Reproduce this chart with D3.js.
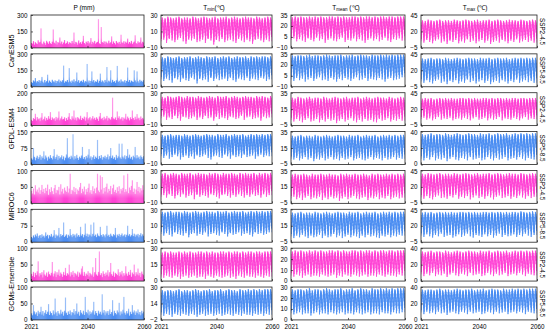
<!DOCTYPE html>
<html><head><meta charset="utf-8">
<script src="https://cdn.jsdelivr.net/npm/d3@7"></script>
<style>body{margin:0;background:#fff}svg{display:block;font-family:"Liberation Sans",Arial,sans-serif}</style>
</head><body><svg id="c" width="550" height="336"></svg>
<script>
const models = ["CanESM5","GFDL-ESM4","MIROC6","GCMs-Ensemble"];
const scenarios = ["SSP2-4.5","SSP5-8.5"];
const yearLabels = ["2021","2040","2060"];
const yTicksP = [[0,150,300],[0,150,300],[0,100,200],[0,75,150],[0,50,100],[0,75,150],[0,50,100],[0,50,100]];
const yTicksTmin = [[-10,10,30],[-10,10,30],[-10,10,30],[-10,10,30],[-10,10,30],[-10,10,30],[0,15,30],[-2,14,30]];
const yTicksTmean = [[-10,5,20,35],[-10,5,20,35],[-5,15,35],[-5,15,35],[-5,15,35],[-5,15,35],[0,10,20,30],[0,10,20,30]];
const yTicksTmax = [[-5,20,45],[-5,20,45],[-5,20,45],[0,20,40],[-5,20,45],[-5,20,45],[0,20,40],[0,20,40]];

// precipitation, 3 values per year (2021-2060), one row per model/scenario
const pVals = [
[45,38,62,30,52,41,35,70,48,55,178,40,33,58,44,29,65,50,37,61,42,36,57,168,48,39,66,31,53,45,95,40,58,34,49,72,38,44,60,35,51,47,39,63,42,140,36,55,48,30,68,41,52,37,59,110,44,33,57,46,62,39,50,90,35,56,43,64,38,49,55,262,41,36,190,53,45,60,34,58,47,39,66,42,51,105,37,59,44,32,63,48,40,55,36,120,50,43,61,38,57,46,85,39,54,41,64,35,49,58,115,43,37,60,45,52,95,40,56,48],
[42,35,58,48,80,39,52,44,61,37,55,90,46,33,62,40,51,110,38,57,45,36,64,49,41,58,34,53,47,66,39,55,43,60,193,37,50,46,62,41,170,48,35,57,44,68,39,52,130,45,60,36,49,55,42,64,38,51,46,208,40,57,35,53,140,47,61,39,50,44,66,37,54,120,42,58,48,35,62,45,180,40,56,47,150,38,63,44,51,36,59,190,43,55,38,67,46,50,41,60,37,53,175,45,62,39,56,48,44,150,58,41,140,50,36,64,47,55,43,60],
[35,28,46,40,72,31,52,38,44,27,49,76,33,41,55,30,47,36,58,42,82,34,50,39,45,29,53,37,48,86,32,44,56,38,41,51,28,46,35,54,76,40,33,57,43,92,36,49,31,52,45,38,60,34,47,41,55,30,50,82,37,46,53,32,44,58,39,48,35,51,42,29,56,77,40,47,33,54,38,45,59,31,48,42,36,53,170,44,39,50,34,86,47,57,38,43,52,30,49,41,72,37,55,45,32,51,40,92,46,35,54,39,70,43,48,33,56,41,47,38],
[28,22,75,35,19,31,40,25,33,44,21,37,29,60,24,41,32,18,36,27,43,30,23,38,70,26,34,45,20,39,28,33,42,24,37,19,31,46,120,29,35,25,40,32,138,22,38,27,44,30,21,36,29,41,80,26,34,23,39,31,45,70,28,37,20,33,42,25,36,30,112,24,39,29,43,22,35,31,40,27,34,46,23,38,75,30,41,26,33,21,44,29,37,95,32,25,95,36,28,42,24,39,70,31,45,27,35,22,40,33,80,28,43,30,36,24,41,34,26,38],
[38,30,45,27,55,36,42,33,48,29,40,56,35,44,31,47,38,57,26,43,34,49,37,28,46,56,32,41,39,50,27,58,36,44,30,48,39,35,52,33,45,90,29,41,37,50,34,46,28,42,38,49,62,31,44,36,51,27,43,35,47,60,33,40,29,52,37,45,31,48,90,39,34,85,42,80,30,47,36,50,60,33,44,38,53,28,46,57,35,41,32,49,37,52,30,44,39,47,85,34,43,36,90,31,48,40,53,70,35,45,29,42,65,37,50,33,46,39,55,41],
[24,18,31,22,35,27,40,20,29,33,19,36,25,30,21,45,28,34,17,32,26,38,23,30,55,19,35,27,31,65,22,37,28,33,90,24,30,36,20,34,27,60,32,23,38,29,35,21,40,26,33,25,70,30,37,22,34,85,28,39,24,36,31,80,26,38,90,29,35,23,40,30,27,70,33,25,37,31,22,36,75,28,34,24,39,30,26,37,32,65,21,35,29,38,25,33,40,27,31,36,23,34,75,30,37,26,32,60,28,39,25,35,30,38,22,33,41,27,36,29],
[22,15,28,12,25,18,30,60,14,24,19,27,11,33,20,16,26,13,29,21,17,25,58,14,23,30,12,27,19,35,15,26,21,13,28,18,40,16,24,20,50,14,27,19,31,12,25,22,17,29,13,26,20,38,45,16,28,15,23,19,30,14,25,21,17,42,13,27,70,20,16,28,90,18,24,12,30,22,15,26,19,33,14,27,55,21,16,29,13,25,22,18,36,15,27,20,31,14,24,17,45,23,16,28,19,34,13,26,21,50,15,27,20,38,17,25,12,29,22,18],
[20,14,45,26,17,23,12,28,19,24,40,16,27,13,22,30,18,25,48,15,26,21,14,29,17,65,23,12,27,20,16,31,19,25,13,28,68,22,15,26,18,29,14,24,21,33,16,27,50,19,25,13,30,22,17,28,15,70,24,20,31,14,26,18,23,29,55,16,27,21,13,28,19,25,16,78,22,30,14,26,20,27,15,32,18,24,60,13,28,21,17,29,23,52,14,26,19,31,70,22,16,27,20,34,13,25,18,45,23,29,15,26,21,32,17,24,14,28,20,25]
];

// yearly summer peaks / winter troughs of the temperature series (°C)
const tminHi = [
[27,26,28,27,26,27,28,26,27,27,26,28,27,26,27,28,27,26,27,28,26,27,27,28,26,27,28,27,26,27,28,27,27,26,28,27,26,27,28,27],
[26,25,27,26,25,26,27,25,26,26,27,25,26,27,26,25,27,26,26,27,25,26,27,26,27,25,26,27,26,26,27,25,27,26,27,26,27,27,26,27],
[25,24,26,25,24,25,26,25,24,26,25,25,24,26,25,24,25,26,25,24,26,25,25,26,24,25,26,25,24,25,26,25,25,24,26,25,26,25,24,26],
[26,25,26,27,25,26,26,25,27,26,25,26,27,26,25,26,27,26,26,25,27,26,26,27,25,26,27,26,26,27,25,26,27,26,27,26,27,26,27,27],
[26,27,25,26,27,26,25,27,26,26,27,25,26,27,26,26,25,27,26,27,26,25,27,26,26,27,26,25,27,26,27,26,26,27,25,27,26,27,26,27],
[27,26,27,28,26,27,27,26,28,27,26,27,28,27,26,27,28,27,27,26,28,27,27,28,26,27,28,27,27,28,26,27,28,27,28,27,28,27,28,28],
[26,27,26,27,26,26,27,26,27,26,27,26,26,27,27,26,27,26,27,26,26,27,27,26,27,26,27,27,26,27,26,27,27,26,27,27,26,27,27,27],
[27,26,27,27,26,27,28,26,27,27,26,27,28,27,26,27,27,28,26,27,27,28,26,27,28,27,27,26,28,27,27,28,27,28,27,28,27,28,28,28]];
const tminLo = [
[-2,0,-4,1,-1,-3,0,2,-2,-5,0,-1,1,-3,-2,0,-4,1,-1,-6,0,-2,1,-3,-1,0,-2,-4,1,-1,-3,0,-2,-5,0,1,-1,-3,0,-2],
[-1,-3,0,-2,-5,1,-1,-4,0,-2,-3,1,-1,-6,0,-2,-1,-4,1,-3,0,-2,-1,0,-3,1,-2,-4,0,-1,-2,1,-3,0,-1,-2,1,0,-3,-1],
[-1,1,-3,0,-2,2,-1,-4,1,0,-2,-1,1,-3,0,-2,2,-1,0,-4,1,-2,0,-1,-3,1,0,-2,-1,2,-3,0,1,-2,-1,0,-4,1,-1,0],
[0,-2,1,-3,-1,2,0,-4,-1,1,-2,0,-3,1,-1,0,2,-2,-4,0,1,-1,-2,2,0,-3,1,-1,0,-2,2,-1,0,1,-3,0,2,-1,1,0],
[-2,0,-3,1,-1,-4,0,-2,1,-3,-1,0,-5,1,-2,0,-1,-3,1,0,-2,-4,0,1,-1,-3,0,-2,1,-1,-3,0,-2,1,-1,0,-3,1,-2,0],
[0,-2,1,-1,-3,2,0,-1,-2,1,-4,0,1,-2,0,-1,2,-3,0,1,-1,-2,2,0,-3,1,-1,0,2,-2,0,1,-1,-3,2,0,1,-1,0,2],
[4,3,5,4,3,5,4,2,4,5,3,4,5,3,4,4,2,5,4,3,5,4,3,4,5,3,4,2,5,4,3,5,4,4,3,5,4,3,5,4],
[3,2,4,3,1,4,3,2,4,3,2,4,3,1,3,4,2,3,4,2,3,4,2,3,4,3,2,4,3,2,4,3,3,2,4,3,4,2,4,3]];
const tmeanHi = [
[32,33,32,33,32,32,33,32,33,32,33,32,32,33,33,32,33,32,33,32,32,33,33,32,33,32,33,33,32,33,32,33,33,32,33,33,32,33,33,33],
[33,32,33,33,32,33,34,32,33,33,32,33,34,33,32,33,33,34,32,33,33,34,32,33,34,33,33,32,34,33,33,34,33,34,33,34,33,34,34,34],
[29,28,30,29,28,29,30,28,29,29,28,30,29,28,29,30,29,28,29,30,28,29,29,30,28,29,30,29,28,29,30,29,29,28,30,29,28,29,30,29],
[30,29,30,31,29,30,30,29,31,30,29,30,31,30,29,30,31,30,30,29,31,30,30,31,29,30,31,30,30,31,29,30,31,30,31,30,31,30,31,31],
[30,31,30,30,31,30,29,31,30,30,31,30,30,31,30,30,29,31,30,31,30,30,31,30,30,31,30,29,31,30,31,30,30,31,30,31,30,31,30,31],
[31,30,31,32,30,31,31,30,32,31,30,31,32,31,30,31,32,31,31,30,32,31,31,32,30,31,32,31,31,32,30,31,32,31,32,31,32,31,32,32],
[27,28,27,28,27,27,28,27,28,27,28,27,27,28,28,27,28,27,28,27,27,28,28,27,28,27,28,28,27,28,27,28,28,27,28,28,27,28,28,28],
[28,27,28,28,27,28,29,27,28,28,27,28,29,28,27,28,28,29,27,28,28,29,27,28,29,28,28,27,29,28,28,29,28,29,28,29,28,29,29,29]];
const tmeanLo = [
[1,3,-1,2,0,-2,3,1,-1,4,0,2,-3,1,3,0,-1,2,4,-2,1,0,3,-1,2,0,-3,1,3,0,2,-1,1,4,0,-2,2,1,3,0],
[0,-2,2,-1,1,-3,0,2,-2,1,3,-1,0,-2,2,0,-3,1,-1,2,0,-2,1,3,-1,0,2,-2,1,0,-1,2,0,-3,1,2,-1,0,1,3],
[2,0,3,1,-1,2,4,0,1,3,-1,2,0,3,1,2,-2,1,3,0,2,4,1,-1,2,0,3,1,2,0,-1,3,1,2,4,0,2,1,3,1],
[2,1,3,0,2,4,1,3,-1,2,1,3,0,2,4,1,2,0,3,1,2,4,0,2,3,1,0,2,4,1,3,2,0,3,1,2,4,1,3,2],
[1,3,0,2,-1,2,4,0,2,1,3,-1,2,0,3,1,2,-2,1,3,0,2,4,1,0,2,3,-1,2,1,3,0,2,1,4,0,2,3,1,2],
[2,0,3,1,4,2,0,3,1,2,4,0,3,1,2,5,1,3,0,2,4,1,3,2,0,3,1,4,2,3,1,0,3,2,4,1,3,2,4,3],
[5,4,6,5,3,5,6,4,5,5,4,6,5,4,5,6,3,5,4,6,5,4,6,5,4,5,6,4,5,5,4,6,5,4,6,5,5,4,6,5],
[6,5,6,7,5,6,6,4,6,7,5,6,6,5,7,6,5,6,7,5,6,6,5,7,6,5,6,7,5,6,6,5,7,6,6,5,7,6,6,7]];
const tmaxHi = [
[37,36,38,37,36,37,38,36,37,37,36,38,37,36,37,38,37,36,37,38,36,37,37,38,36,37,38,37,36,37,38,37,37,36,38,37,36,37,38,37],
[38,37,38,39,37,38,38,37,39,38,37,38,39,38,37,38,39,38,38,37,39,38,38,39,37,38,39,38,38,39,37,38,39,38,39,38,39,38,39,39],
[36,37,36,37,35,36,37,36,37,36,37,36,36,37,37,36,37,36,37,36,36,37,37,36,37,36,37,37,36,37,36,37,37,36,37,37,36,37,37,37],
[37,36,37,38,36,37,37,36,38,37,36,37,38,37,36,37,38,37,37,36,38,37,37,38,36,37,38,37,37,38,36,37,38,37,38,37,38,37,38,38],
[40,39,41,40,39,40,41,39,40,40,39,41,40,39,40,41,40,39,40,41,39,40,40,41,39,40,41,40,39,40,41,40,40,39,41,40,39,40,41,40],
[40,41,40,41,39,40,41,40,41,40,41,40,40,41,41,40,41,40,41,40,40,41,41,40,41,40,41,41,40,41,40,41,41,40,42,41,40,41,42,41],
[36,35,36,37,35,36,36,35,37,36,35,36,37,36,35,36,37,36,36,35,37,36,36,37,35,36,37,36,36,37,35,36,37,36,37,36,37,36,37,37],
[37,36,37,37,36,37,38,36,37,37,36,37,38,37,36,37,37,38,36,37,37,38,36,37,38,37,37,36,38,37,37,38,37,38,37,38,37,38,38,38]];
const tmaxLo = [
[5,3,7,4,2,6,8,3,5,1,6,4,7,2,5,3,8,4,6,2,5,7,3,6,1,4,6,3,7,5,2,6,4,8,3,5,7,4,6,3],
[3,1,5,2,0,4,6,1,3,-1,4,2,5,0,3,1,6,2,4,0,3,5,1,4,-1,2,4,1,5,3,0,4,2,6,1,3,5,2,4,1],
[5,7,4,6,3,5,8,4,6,5,7,3,5,6,4,7,5,3,6,8,4,5,7,3,6,4,5,8,3,6,5,4,7,5,3,6,8,4,6,5],
[7,5,8,6,9,5,7,6,8,4,7,9,6,5,8,7,5,9,6,7,8,5,6,9,7,5,8,6,7,9,5,7,8,6,9,7,5,8,7,6],
[4,2,6,3,1,5,7,3,4,2,6,4,8,2,5,3,6,1,4,7,3,5,2,6,4,1,5,7,3,4,6,2,5,3,7,4,2,6,3,5],
[5,3,7,4,2,6,4,8,3,5,6,2,4,7,3,5,8,4,2,6,5,3,7,4,6,2,5,8,3,6,4,5,7,3,6,4,8,5,3,6],
[8,6,9,7,10,6,8,7,9,5,8,10,7,6,9,8,6,10,7,8,9,6,7,10,8,6,9,7,8,10,6,8,9,7,10,8,6,9,8,7],
[9,7,10,8,9,7,10,8,9,6,9,10,8,7,10,9,7,10,8,9,10,7,8,10,9,7,10,8,9,10,7,9,10,8,10,9,7,10,9,8]];
// typical within-year course (fraction between trough and peak), 24 steps per year
const season = [0.00,0.30,0.10,0.45,0.28,0.60,0.45,0.78,0.60,0.90,0.72,1.00,0.76,0.96,0.68,0.90,0.58,0.80,0.45,0.66,0.30,0.52,0.18,0.36];

const svg = d3.select("#c");
const colX = [[31,144],[161,272],[291,405],[421,537]];
const rowTop0 = 15, rowPitch = 38.86, rowH = 32.9;
const colors = ["#ff40d4", "#4a8cf2"];
const NY = 40;
const defs = svg.append("defs");
colors.forEach((c,i)=>{
  const g = defs.append("linearGradient").attr("id","pg"+i).attr("gradientUnits","userSpaceOnUse")
    .attr("x1",0).attr("x2",0).attr("y1",rowH).attr("y2",0);
  [[0,1],[0.15,0.95],[0.3,0.6],[1,0.5]].forEach(s=>g.append("stop").attr("offset",s[0]).attr("stop-color",c).attr("stop-opacity",s[1]));
});

const tickFont = 6.3;
const fontFam = "Liberation Sans, Arial, sans-serif";
const tempSets = [[tminHi,tminLo,yTicksTmin],[tmeanHi,tmeanLo,yTicksTmean],[tmaxHi,tmaxLo,yTicksTmax]];

for (let r=0;r<8;r++){
  const top = rowTop0 + r*rowPitch;
  const color = colors[r%2];
  for (let c=0;c<4;c++){
    const [x0,x1] = colX[c];
    const w = x1-x0;
    const g = svg.append("g").attr("transform",`translate(${x0},${top})`);
    const cid = `clip${r}_${c}`;
    defs.append("clipPath").attr("id",cid).append("rect").attr("width",w).attr("height",rowH);
    const x = d3.scaleLinear().domain([0,NY]).range([0,w]);
    const ticks = c===0 ? yTicksP[r] : tempSets[c-1][2][r];
    const y = d3.scaleLinear().domain([ticks[0],ticks[ticks.length-1]]).range([rowH,0]);
    const dg = g.append("g").attr("clip-path",`url(#${cid})`);
    if (c===0){
      const vals = pVals[r];
      const step = NY/vals.length;
      dg.selectAll("rect").data(vals).join("rect")
        .attr("x",(d,i)=>x(i*step)).attr("width",x(step)-x(0)+0.25)
        .attr("y",d=>y(d)).attr("height",d=>y(0)-y(d))
        .attr("fill",`url(#pg${r%2})`);
    } else {
      const hi = tempSets[c-1][0][r], lo = tempSets[c-1][1][r];
      const pts = [];
      for (let yr=0; yr<NY; yr++){
        season.forEach((f,k)=>pts.push([yr + k/season.length, lo[yr] + (hi[yr]-lo[yr])*f]));
      }
      pts.push([NY, lo[NY-1]]);
      dg.append("path").attr("d",d3.line().x(d=>x(d[0])).y(d=>y(d[1]))(pts))
        .attr("fill","none").attr("stroke",color).attr("stroke-width",0.75);
    }
    const ya = g.append("g").call(d3.axisLeft(y).tickValues(ticks).tickSize(-2).tickPadding(3.5));
    ya.select(".domain").remove();
    const last = ticks[ticks.length-1], first = ticks[0];
    ya.selectAll("text").attr("font-size",tickFont).attr("font-family",fontFam).attr("fill","#000")
      .attr("y",d=> d===last ? 0.7 : (d===first ? -0.7 : 0));
    ya.selectAll("line").attr("stroke","#000").attr("stroke-width",0.6);
    const xa = g.append("g").attr("transform",`translate(0,${rowH})`)
      .call(d3.axisBottom(x).tickValues([0,NY/2,NY]).tickSize(-2).tickPadding(5).tickFormat((d,i)=>yearLabels[i]));
    xa.select(".domain").remove();
    xa.selectAll("line").attr("stroke","#000").attr("stroke-width",0.6);
    xa.selectAll("text").attr("font-size",tickFont).attr("font-family",fontFam).attr("fill","#000")
      .style("display", r===7 ? null : "none");
    g.append("rect").attr("width",w).attr("height",rowH).attr("fill","none").attr("stroke","#222").attr("stroke-width",0.8);
  }
  svg.append("text").attr("transform",`translate(540,${top+rowH/2}) rotate(90)`)
    .attr("text-anchor","middle").attr("font-size",6.3).text(scenarios[r%2]);
}
models.forEach((m,i)=>{
  const cy = rowTop0 + (2*i)*rowPitch + rowH + (rowPitch-rowH)/2;
  svg.append("text").attr("transform",`translate(14,${cy}) rotate(-90)`)
    .attr("text-anchor","middle").attr("font-size",7.2).text(m);
});
const titles = [["P (mm)"],["T","min","(℃)"],["T","mean"," (℃)"],["T","max"," (℃)"]];
const titleX = [84,214,346,475];
titles.forEach((t,i)=>{
  const tx = svg.append("text").attr("x",titleX[i]).attr("y",9.5).attr("text-anchor","middle").attr("font-size",6.5);
  tx.append("tspan").text(t[0]);
  if (t.length>1){
    tx.append("tspan").attr("font-size",4.5).attr("dy",1.5).text(t[1]);
    tx.append("tspan").attr("dy",-1.5).text(t[2]);
  }
});
</script></body></html>
